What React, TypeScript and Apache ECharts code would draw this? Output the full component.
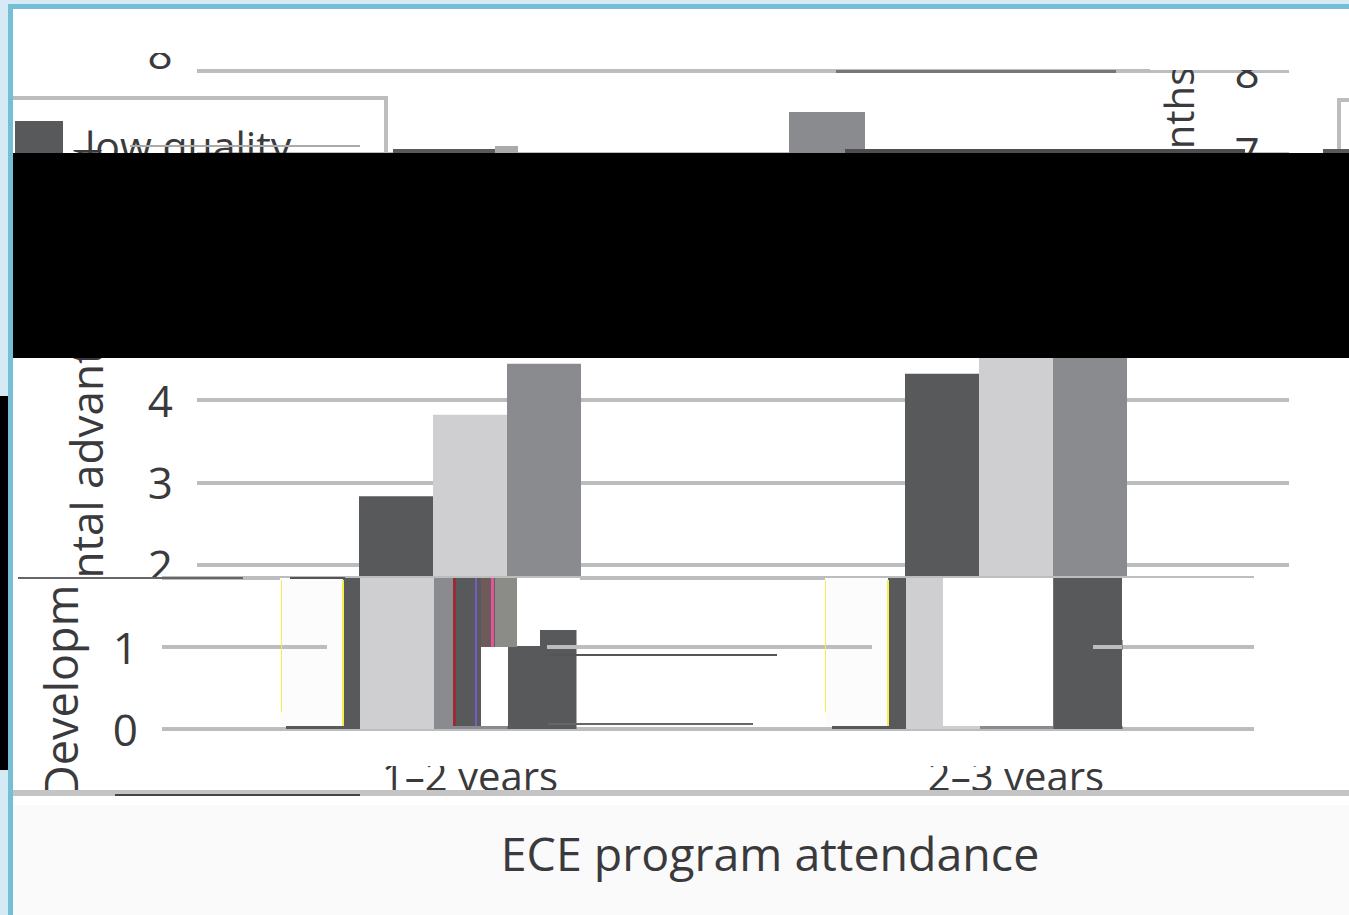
import React, { useEffect, useRef } from "react";
import * as echarts from "echarts";

const categories = ["1–2 years", "2–3 years"];
const lowQuality = [2.83, 4.32];
const mediumQuality = [3.82, 6.2];
const highQuality = [4.44, 7.5];
const seriesNames = ["low quality", "medium quality", "high quality"];
const xAxisTitle = "ECE program attendance";
const yAxisTitle = "Developmental advantage (months)";
const upperTickLabels = [2, 3, 4];
const lowerTickLabels = [0, 1];

const DARK = "#58595b";
const LIGHT = "#cfcfd1";
const MID = "#8a8b8e";
const GRID = "#bcbdbf";
const FONT = "'Open Sans', sans-serif";
const TXT = "#3a3a3c";

const rect = (x0: number, y0: number, x1: number, y1: number, fill: string, z: number) => ({
  type: "rect", z, silent: true,
  shape: { x: x0, y: y0, width: x1 - x0, height: y1 - y0 },
  style: { fill },
});
const rotText = (text: string, x: number, y: number, size: number, z: number, textAlign = "center") => ({
  type: "text", z, silent: true, x, y, rotation: Math.PI / 2,
  style: { text, fill: TXT, font: `${size}px ${FONT}`, textAlign, textVerticalAlign: "middle" },
});
const text = (t: string, x: number, y: number, size: number, z: number) => ({
  type: "text", z, silent: true, x, y,
  style: { text: t, fill: TXT, font: `${size}px ${FONT}`, textAlign: "center", textVerticalAlign: "middle" },
});

const hiddenX = (gridIndex: number) => ({ type: "category", gridIndex, data: categories, show: false });
const hiddenY = (gridIndex: number, min: number, max: number) => ({ type: "value", gridIndex, min, max, show: false });
const bar = (name: string, data: number[], color: string, xi: number, width: number, z: number) => ({
  type: "bar", name, data, xAxisIndex: xi, yAxisIndex: xi, barWidth: width, barGap: "0%", z, silent: true,
  clip: true, itemStyle: { color },
});

export default function App() {
  const ref = useRef<HTMLDivElement>(null);
  useEffect(() => {
    const chart = echarts.init(ref.current!, undefined, { renderer: "svg" });
    const stripMax = (729 - 578) / 82.25;
    chart.setOption({
      animation: false,
      backgroundColor: "#ffffff",
      legend: {
        left: -5, top: 98, orient: "vertical", z: 8,
        data: seriesNames, itemWidth: 48, itemHeight: 48, itemGap: 16, padding: [23, 2, 23, 20],
        borderColor: GRID, borderWidth: 4,
        icon: "rect",
        textStyle: { fontFamily: FONT, fontSize: 41, color: TXT, padding: [0, 0, 0, 17] },
      },
      grid: [
        { left: 197, top: 71, width: 1092, height: 658 },
        { left: 162, top: 578, width: 1092, height: 151 },
        { left: 124, top: 578, width: 1092, height: 151 },
        { left: 269, top: 578, width: 1092, height: 151 },
        { left: 8, top: 71, width: 1092, height: 82 },
      ],
      xAxis: [
        {
          type: "category", gridIndex: 0, data: categories, z: 7,
          axisLine: { show: false }, axisTick: { show: false },
          axisLabel: { margin: 26, fontFamily: FONT, fontSize: 40, color: TXT },
        },
        hiddenX(1), hiddenX(2), hiddenX(3), hiddenX(4),
      ],
      yAxis: [
        {
          type: "value", gridIndex: 0, min: 0, max: 8, interval: 1, z: 1,
          axisLine: { show: false }, axisTick: { show: false },
          axisLabel: {
            margin: 24, fontFamily: FONT, fontSize: 44, color: TXT,
            formatter: (v: number) => (upperTickLabels.includes(v) ? String(v) : ""),
          },
          splitLine: { lineStyle: { color: GRID, width: 4 } },
        },
        {
          type: "value", gridIndex: 1, min: 0, max: stripMax, interval: 1, z: 4,
          axisLine: { show: false, onZero: false }, axisTick: { show: false },
          position: "left",
          axisLabel: {
            margin: 24, fontFamily: FONT, fontSize: 44, color: TXT,
            formatter: (v: number) => (lowerTickLabels.includes(v) ? String(v) : ""),
          },
          splitLine: { lineStyle: { color: GRID, width: 4 } },
        },
        hiddenY(2, 0, stripMax), hiddenY(3, 0, stripMax), hiddenY(4, 7, 8),
      ],
      series: [
        bar(seriesNames[0], lowQuality, DARK, 0, 74, 2),
        bar(seriesNames[1], mediumQuality, LIGHT, 0, 74, 2),
        bar(seriesNames[2], highQuality, MID, 0, 74, 2),
        bar(seriesNames[0], lowQuality, DARK, 2, 74, 5),
        bar(seriesNames[1], mediumQuality, LIGHT, 2, 74, 5),
        bar(seriesNames[2], highQuality, MID, 2, 74, 5),
        bar(seriesNames[0], lowQuality, DARK, 3, 69, 5),
        bar(seriesNames[2], highQuality, MID, 4, 76, 5),
      ],
      graphic: { elements: [
        // axis title, cut by the strip masks below it
        rotText(yAxisTitle, 86, 446, 44, 2),
        rect(13, 20, 180, 50, "#ffffff", 2),
        text("8", 160, 52, 44, 2),
        rect(140, 20, 180, 53, "#ffffff", 2),
        // masks that cut the picture into its shifted strips
        rect(13, 74, 1349, 150, "#ffffff", 3),
        rect(13, 578, 1349, 790, "#ffffff", 3),
        // fragments in the lower strip
        rect(280, 578, 343, 726, "#fcfcfc", 6),
        rect(825, 578, 888, 726, "#fcfcfc", 6),
        rect(280, 645, 327, 649, GRID, 7),
        rect(825, 645, 872, 649, GRID, 7),
        rect(943, 578, 1053, 726, "#ffffff", 6),
        rect(481, 647, 508, 726, "#ffffff", 6),
        rect(508, 578, 580, 630, "#ffffff", 6),
        rect(508, 630, 540, 646, "#ffffff", 6),
        rect(1122, 578, 1349, 640, "#ffffff", 6),
        rect(1122, 650, 1349, 726, "#ffffff", 6),
        rect(453, 578, 481, 726, DARK, 6),
        rect(481, 578, 495, 647, "#6d5a5a", 6),
        rect(495, 578, 517, 647, "#8b8b88", 6),
        rect(453, 578, 456, 726, "#9b2b35", 7),
        rect(475, 578, 477, 726, "#7a5cc0", 7),
        rect(491, 578, 494, 647, "#e0569a", 7),
        rect(281, 580, 282, 712, "#f6ee4a", 7),
        rect(342, 580, 344, 726, "#f6ee4a", 7),
        rect(825, 580, 826, 712, "#f6ee4a", 7),
        rect(887, 580, 889, 726, "#f6ee4a", 7),
        rect(547, 645, 578, 649, GRID, 7),
        rect(1093, 645, 1122, 649, GRID, 7),
        rect(548, 654, 777, 656, "#555", 7),
        rect(548, 723, 753, 725, "#666", 7),
        rect(18, 577, 243, 579, "#666", 7),
        rect(290, 577, 345, 579, "#555", 7),
        // lower part of the axis title, displaced inside the shifted strip
        rotText("Developm", 60, 798, 45, 7, "left"),
        // top of the category labels is cut off in the reference
        rect(280, 735, 1349, 766, "#ffffff", 8),
        // wrapped fragments in the top strip
        rotText("nths", 1178, 108, 40, 7),
        text("7", 1247, 152, 44, 7),
        text("8", 1247, 71, 44, 7),
        rect(1150, 40, 1300, 70, "#ffffff", 7),
        rect(1337, 98, 1349, 102, GRID, 7),
        rect(1337, 98, 1341, 153, GRID, 7),
        rect(1323, 149, 1349, 153, DARK, 9),
        rect(845, 149, 1245, 153, "#4d4d4f", 9),
        rect(393, 149, 495, 153, DARK, 9),
        rect(495, 146, 518, 153, "#aaaaaa", 9),
        rect(130, 145, 360, 147, "#aaaaaa", 9),
        rect(836, 70, 1116, 73, "#777777", 9),
        // page furniture
        rect(13, 790, 1349, 796, "#c4c4c4", 9),
        rect(115, 794, 360, 796, "#444", 9),
        rect(13, 796, 1349, 915, "#ffffff", 9),
        rect(13, 805, 1349, 915, "#fafafa", 9),
        text(xAxisTitle, 770, 853, 46.5, 10),
        rect(13, 153, 1349, 358, "#000000", 20),
        rect(0, 0, 1400, 4, "#d6eaf5", 21),
        rect(0, 4, 1400, 9, "#74bed6", 21),
        rect(0, 0, 8, 915, "#d6eaf5", 21),
        rect(8, 4, 13, 915, "#74bed6", 21),
        rect(0, 396, 8, 770, "#000000", 21),
      ] },
    });
    return () => chart.dispose();
  }, []);
  return <div ref={ref} style={{ position: "fixed", left: 0, top: 0, width: 1400, height: 915 }} />;
}
